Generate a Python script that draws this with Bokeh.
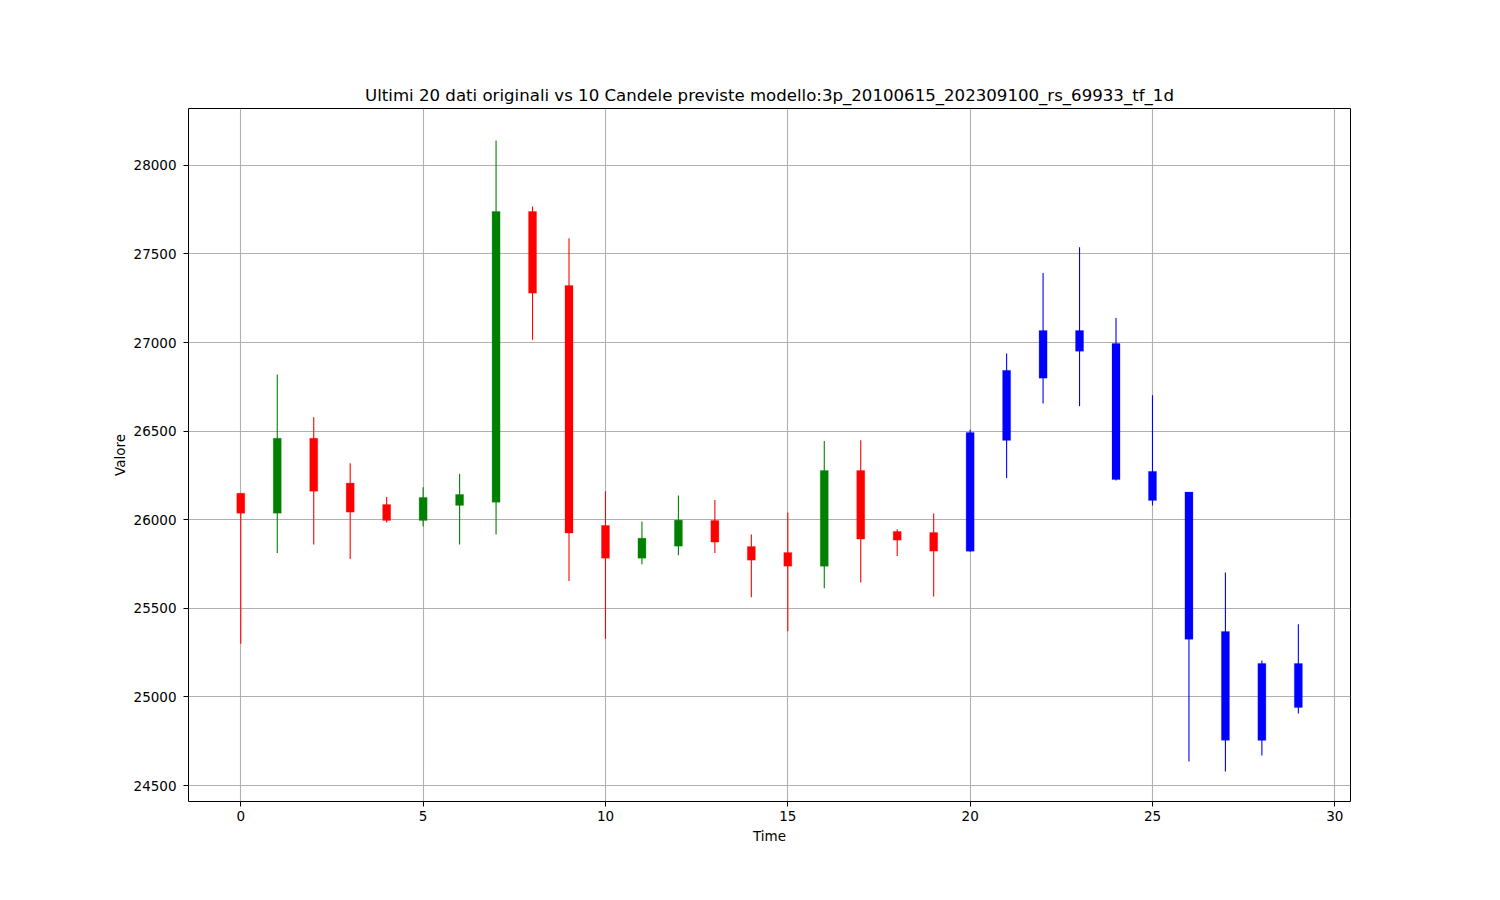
from bokeh.plotting import figure
from bokeh.models import Range1d, FixedTicker, ColumnDataSource
from bokeh.embed import file_html
from bokeh.resources import INLINE

# Original data (last 20 candles)
t_orig = list(range(20))
open_orig = [26150, 26037, 26460, 26207, 26086, 25996, 26081, 26099, 27740, 27322,
             25968, 25783, 25851, 25996, 25849, 25815, 25738, 26278, 25934, 25928]
close_orig = [26037, 26460, 26161, 26043, 25996, 26126, 26143, 27740, 27279, 25925,
              25783, 25896, 25998, 25874, 25772, 25738, 26278, 25891, 25885, 25823]
high_orig = [26150, 26820, 26579, 26319, 26128, 26184, 26260, 28140, 27768, 27589,
             26161, 25990, 26137, 26111, 25917, 26041, 26444, 26449, 25947, 26036]
low_orig = [25300, 25812, 25861, 25778, 25985, 25962, 25861, 25917, 27016, 25654,
            25328, 25749, 25800, 25812, 25563, 25371, 25614, 25646, 25795, 25567]

# Predicted candles
t_pred = list(range(20, 30))
open_pred = [25823, 26448, 26799, 27068, 26995, 26273, 26156, 25370, 24755, 25189]
close_pred = [26493, 26843, 27068, 26951, 26227, 26109, 25325, 24755, 25189, 24941]
high_pred = [26508, 26938, 27392, 27538, 27138, 26703, 26156, 25703, 25206, 25411]
low_pred = [25820, 26235, 26656, 26641, 26222, 26081, 24636, 24580, 24670, 24907]

x_ticks = [0, 5, 10, 15, 20, 25, 30]
y_ticks = [24500, 25000, 25500, 26000, 26500, 27000, 27500, 28000]

title_text = "Ultimi 20 dati originali vs 10 Candele previste modello:3p_20100615_202309100_rs_69933_tf_1d"

FONT = "DejaVu Sans"

p = figure(output_backend="svg", toolbar_location=None,
           frame_width=1162, frame_height=693,
           min_border_left=188, min_border_right=120,
           min_border_top=108, min_border_bottom=80,
           x_range=Range1d(-1.434, 30.43), y_range=Range1d(24410, 28321),
           title=title_text)

p.background_fill_color = "white"
p.border_fill_color = "white"
p.outline_line_color = "black"
p.outline_line_width = 1

p.title.align = "center"
p.title.text_font = FONT
p.title.text_font_size = "16.6px"
p.title.text_font_style = "normal"
p.title.text_color = "black"
p.title.standoff = 8

for ax in (p.xaxis, p.yaxis):
    ax.major_label_text_font = FONT
    ax.major_label_text_font_size = "13.5px"
    ax.major_label_text_color = "black"
    ax.axis_label_text_font = FONT
    ax.axis_label_text_font_size = "13.5px"
    ax.axis_label_text_font_style = "normal"
    ax.axis_label_text_color = "black"
    ax.minor_tick_line_color = None
    ax.major_tick_out = 5
    ax.major_tick_in = 0
    ax.major_tick_line_color = "black"
    ax.axis_line_color = None
    ax.major_label_standoff = 4

p.yaxis.major_label_standoff = 7
p.xaxis.ticker = FixedTicker(ticks=x_ticks)
p.yaxis.ticker = FixedTicker(ticks=y_ticks)
p.xaxis.axis_label = "Time"
p.yaxis.axis_label = "Valore"
p.xaxis.axis_label_standoff = 4
p.yaxis.axis_label_standoff = 3

p.grid.grid_line_color = "#b0b0b0"
p.grid.grid_line_width = 1.1

# Original candles
colors_orig = ["green" if c >= o else "red" for o, c in zip(open_orig, close_orig)]
src_o = ColumnDataSource(dict(
    t=t_orig, o=open_orig, c=close_orig, h=high_orig, l=low_orig,
    top=[max(o, c) for o, c in zip(open_orig, close_orig)],
    bot=[min(o, c) for o, c in zip(open_orig, close_orig)],
    col=colors_orig))
p.segment(x0="t", y0="l", x1="t", y1="h", color="col", line_width=1.1, source=src_o)
p.vbar(x="t", width=0.22, top="top", bottom="bot", fill_color="col",
       line_color="col", line_width=0.5, line_alpha=0.5, source=src_o)

# Predicted candles
src_p = ColumnDataSource(dict(
    t=t_pred, o=open_pred, c=close_pred, h=high_pred, l=low_pred,
    top=[max(o, c) for o, c in zip(open_pred, close_pred)],
    bot=[min(o, c) for o, c in zip(open_pred, close_pred)]))
p.segment(x0="t", y0="l", x1="t", y1="h", color="blue", line_width=1.1, source=src_p)
p.vbar(x="t", width=0.22, top="top", bottom="bot", fill_color="blue",
       line_color="blue", line_width=0.5, line_alpha=0.5, source=src_p)

open("out.html", "w").write(file_html(p, INLINE))
